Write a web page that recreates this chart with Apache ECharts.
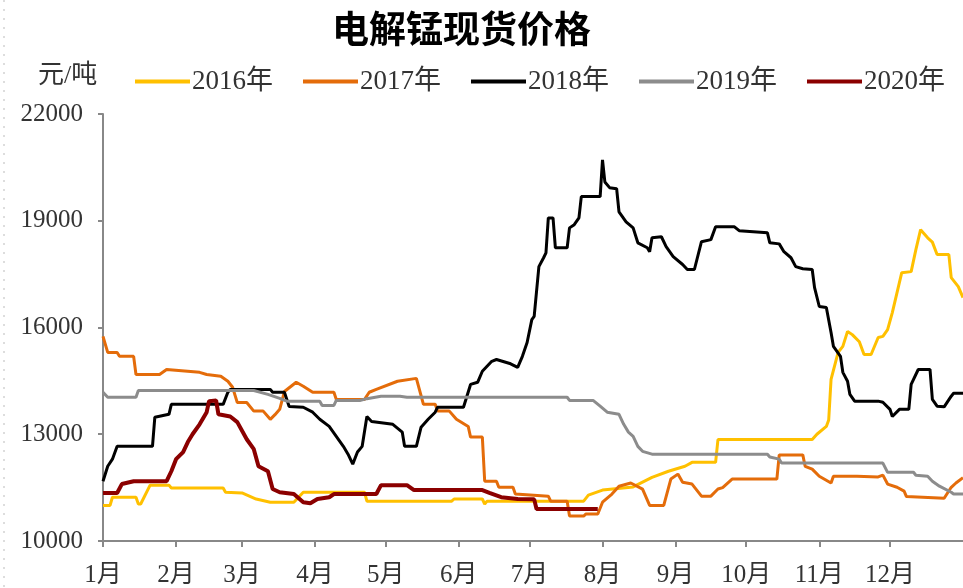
<!DOCTYPE html>
<html>
<head>
<meta charset="utf-8">
<title>电解锰现货价格</title>
<script src="https://cdn.jsdelivr.net/npm/echarts@6/dist/echarts.min.js"></script>
<style>
  html, body { margin: 0; padding: 0; background: #fff; }
  #main { width: 963px; height: 588px; }
</style>
</head>
<body>
<div id="main"></div>
<script>
// 月份刻度（按一年中的天数）
var monthDays = [0, 31, 59, 90, 120, 151, 181, 212, 243, 273, 304, 334];
var monthLabels = ['1月', '2月', '3月', '4月', '5月', '6月', '7月', '8月', '9月', '10月', '11月', '12月'];
var years = ['2016年', '2017年', '2018年', '2019年', '2020年'];

// 各年份价格 [天, 元/吨]
var p2016 = [[0,11000],[3,11000],[4,11230],[14,11230],[15,11040],[16,11040],[20,11570],[28,11570],[29,11490],[51,11490],[52,11370],[59,11350],[65,11180],[71,11090],[81,11090],[85,11370],[111,11370],[112,11120],[148,11120],[149,11180],[161,11180],[162,11040],[163,11120],[204,11120],[206,11290],[212,11430],[225,11520],[233,11790],[240,11960],[247,12100],[250,12210],[260,12210],[261,12850],[301,12850],[303,13000],[307,13220],[308,13400],[309,14540],[312,15300],[314,15470],[316,15890],[318,15800],[321,15600],[323,15240],[326,15240],[329,15720],[331,15750],[333,15940],[335,16420],[339,17540],[343,17570],[345,18190],[347,18750],[350,18520],[352,18400],[354,18050],[359,18050],[360,17400],[363,17150],[365,16840]];
var p2017 = [[0,15750],[2,15300],[6,15300],[7,15190],[13,15190],[14,14680],[24,14680],[27,14820],[41,14740],[44,14680],[50,14630],[53,14490],[55,14320],[57,13890],[61,13890],[64,13650],[68,13650],[71,13420],[73,13550],[75,13700],[77,14200],[82,14460],[85,14350],[89,14180],[98,14180],[99,13980],[111,13980],[113,14180],[116,14260],[125,14490],[133,14570],[136,13840],[141,13840],[142,13650],[147,13650],[150,13420],[155,13220],[156,12920],[161,12920],[162,11680],[167,11680],[168,11510],[174,11510],[175,11320],[189,11260],[190,11120],[197,11120],[198,10700],[204,10700],[205,10760],[210,10760],[212,11090],[216,11320],[219,11540],[224,11630],[229,11460],[232,11000],[238,11000],[241,11740],[244,11880],[246,11650],[250,11600],[254,11260],[258,11260],[261,11460],[263,11500],[267,11740],[286,11740],[287,12420],[297,12420],[298,12100],[301,12020],[304,11820],[309,11630],[310,11820],[320,11820],[329,11800],[331,11850],[333,11600],[337,11510],[340,11400],[341,11250],[357,11200],[360,11510],[362,11630],[365,11780]];
var p2018 = [[0,11680],[2,12100],[4,12300],[6,12660],[21,12660],[22,13480],[28,13560],[29,13840],[51,13840],[53,14180],[54,14260],[71,14260],[72,14180],[77,14180],[79,13780],[85,13760],[89,13620],[92,13420],[96,13220],[99,12940],[102,12660],[104,12440],[106,12160],[108,12500],[110,12660],[112,13500],[114,13360],[123,13280],[127,13060],[128,12660],[133,12660],[135,13200],[138,13420],[141,13620],[142,13760],[153,13760],[156,14400],[159,14460],[161,14770],[165,15050],[167,15100],[173,14980],[176,14880],[178,15190],[180,15580],[182,16220],[183,16310],[185,17710],[187,17960],[188,18100],[189,19080],[191,19080],[192,18240],[197,18240],[198,18800],[200,18890],[202,19080],[203,19680],[211,19680],[212,20710],[213,20090],[215,19930],[218,19900],[219,19250],[222,18970],[225,18800],[227,18380],[231,18240],[232,18130],[233,18520],[237,18550],[239,18270],[242,17990],[246,17770],[248,17630],[251,17630],[254,18410],[258,18470],[260,18830],[268,18830],[270,18720],[282,18660],[283,18380],[287,18350],[289,18130],[292,17960],[294,17710],[297,17650],[301,17630],[302,17120],[304,16590],[307,16560],[309,15860],[310,15470],[313,15190],[314,14740],[316,14490],[317,14120],[319,13930],[329,13930],[331,13900],[334,13700],[335,13500],[338,13700],[342,13700],[343,14400],[346,14820],[351,14820],[352,13980],[354,13790],[357,13770],[360,14070],[361,14150],[365,14150]];
var p2019 = [[0,14180],[2,14040],[14,14040],[15,14230],[64,14230],[70,14120],[75,14010],[78,13930],[92,13930],[93,13810],[98,13810],[99,13950],[109,13950],[112,14000],[118,14070],[126,14070],[129,14040],[197,14040],[198,13950],[208,13950],[211,13790],[214,13620],[219,13560],[221,13280],[223,13060],[225,12940],[227,12660],[229,12520],[233,12440],[282,12440],[283,12360],[287,12300],[288,12190],[331,12190],[333,11930],[344,11930],[345,11850],[350,11820],[352,11680],[355,11540],[360,11370],[361,11320],[365,11320]];
var p2020 = [[0,11350],[6,11350],[8,11600],[13,11680],[27,11680],[29,11960],[31,12300],[34,12500],[36,12780],[38,13000],[41,13280],[44,13620],[45,13930],[48,13950],[49,13560],[54,13500],[57,13340],[61,12860],[64,12580],[66,12100],[70,11960],[72,11460],[75,11370],[81,11320],[85,11090],[88,11060],[91,11180],[96,11230],[98,11320],[116,11320],[118,11570],[129,11570],[132,11430],[161,11430],[164,11350],[169,11230],[176,11180],[183,11170],[184,10900],[210,10900]];

var colors = ['#FFC000', '#E46C0A', '#000000', '#8C8C8C', '#8B0000'];
var widths = [3, 3, 3, 3, 4];
var allData = [p2016, p2017, p2018, p2019, p2020];

var font = '"Liberation Serif", "Noto Sans CJK SC", serif';

var series = [];
for (var i = 0; i < years.length; i++) {
  series.push({
    name: years[i],
    type: 'line',
    data: allData[i],
    showSymbol: false,
    symbol: 'none',
    lineStyle: { color: colors[i], width: widths[i] },
    itemStyle: { color: colors[i] },
    z: i == 4 ? 5 : 2
  });
}

var chart = echarts.init(document.getElementById('main'), null, { renderer: 'canvas' });
var option = {
  animation: false,
  backgroundColor: '#fff',
  title: {
    text: '电解锰现货价格',
    left: 327,
    top: 10,
    textStyle: { fontFamily: font, fontSize: 37, fontWeight: 'bold', color: '#000' }
  },
  legend: {
    data: years,
    left: 130,
    top: 63,
    icon: 'rect',
    itemWidth: 55,
    itemHeight: 4,
    itemGap: 30,
    textStyle: { fontFamily: font, fontSize: 27, color: '#333', padding: [0, 0, 0, -3] }
  },
  graphic: [
    {
      type: 'text', left: 38, top: 63,
      style: { text: '元/吨', font: '26px ' + font, fill: '#333' }
    },
    {
      type: 'line',
      shape: { x1: 4, y1: 0, x2: 4, y2: 588 },
      style: { stroke: '#bbb', lineWidth: 1, lineDash: [2, 7] }
    }
  ],
  grid: { left: 103, right: 0, top: 114, bottom: 46 },
  xAxis: {
    type: 'value',
    min: 0,
    max: 365,
    axisLine: { lineStyle: { color: '#888', width: 2 } },
    axisTick: { show: true, customValues: monthDays, length: 6, lineStyle: { color: '#888', width: 2 } },
    axisLabel: {
      customValues: monthDays,
      formatter: function (v) { return monthLabels[monthDays.indexOf(v)]; },
      fontFamily: font, fontSize: 25, color: '#333', margin: 22
    },
    splitLine: { show: false }
  },
  yAxis: {
    type: 'value',
    min: 10000,
    max: 22000,
    interval: 3000,
    axisLine: { show: true, lineStyle: { color: '#888', width: 2 } },
    axisTick: { show: true, length: 5, lineStyle: { color: '#888', width: 2 } },
    axisLabel: {
      formatter: function (v) { return String(v); },
      fontFamily: font, fontSize: 25, color: '#333', margin: 20
    },
    splitLine: { show: false }
  },
  series: series
};
chart.setOption(option);
</script>
</body>
</html>
